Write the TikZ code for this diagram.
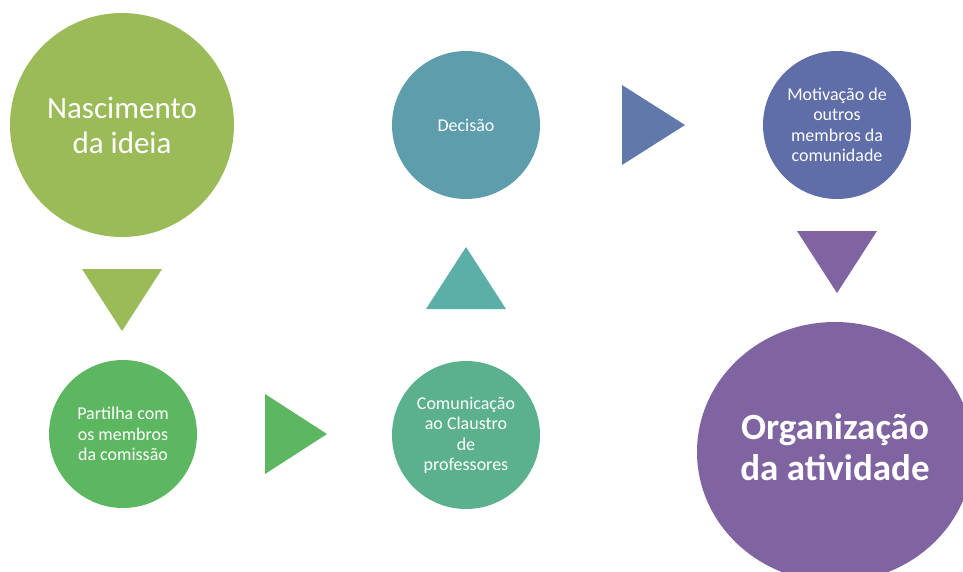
\documentclass[tikz,border=0pt]{standalone}
\usepackage{fontspec}
\setmainfont{Carlito}
\usetikzlibrary{shapes.geometric}
\definecolor{verdeA}{HTML}{9BBB59}
\definecolor{verdeB}{HTML}{5DB761}
\definecolor{verdeC}{HTML}{5BB18D}
\definecolor{azulA}{HTML}{5BAFA6}
\definecolor{azulB}{HTML}{5E9DAC}
\definecolor{azulC}{HTML}{6079AA}
\definecolor{azulD}{HTML}{5F6DA8}
\definecolor{roxo}{HTML}{8064A2}
\tikzset{
  etapa/.style={circle, fill=#1, text=white, inner sep=0pt, align=center,
    minimum size=148pt, font=\fontsize{18}{20.5}\selectfont},
  seta/.style={fill=#1}
}
\begin{document}
\begin{tikzpicture}[x=1pt,y=-1pt]
    \useasboundingbox (0,0) rectangle (963,571);
    \clip (0,0) rectangle (963,571);
    %6 etapas
    \node[etapa=verdeA, minimum size=224pt, font=\fontsize{31}{35}\selectfont] (ideia) at (122,125) {Nascimento\\da ideia};
    \node[etapa=verdeB] (partilha) at (123,434) {Partilha com\\os membros\\da comiss\~ao};
    \node[etapa=verdeC] (claustro) at (466,435) {Comunica\c{c}\~ao\\ao Claustro\\de\\professores};
    \node[etapa=azulB] (decisao) at (466,125) {Decis\~ao};
    \node[etapa=azulD] (motivacao) at (837,125) {Motiva\c{c}\~ao de\\outros\\membros da\\comunidade};
    \node[etapa=roxo, ellipse, minimum width=276pt, minimum height=260pt, text depth=10pt, font=\bfseries\fontsize{37}{41}\selectfont] (organizacao) at (835,452) {Organiza\c{c}\~ao\\da atividade};

    %5 setas
    \fill[seta=verdeA] (82,269) -- (162,269) -- (122,331) -- cycle;
    \fill[seta=verdeB] (265,394) -- (265,474) -- (327,434) -- cycle;
    \fill[seta=azulA] (426,309) -- (506,309) -- (466,247) -- cycle;
    \fill[seta=azulC] (622,85) -- (622,165) -- (685,125) -- cycle;
    \fill[seta=roxo] (797,231) -- (877,231) -- (837,293) -- cycle;

\end{tikzpicture}
\end{document}
